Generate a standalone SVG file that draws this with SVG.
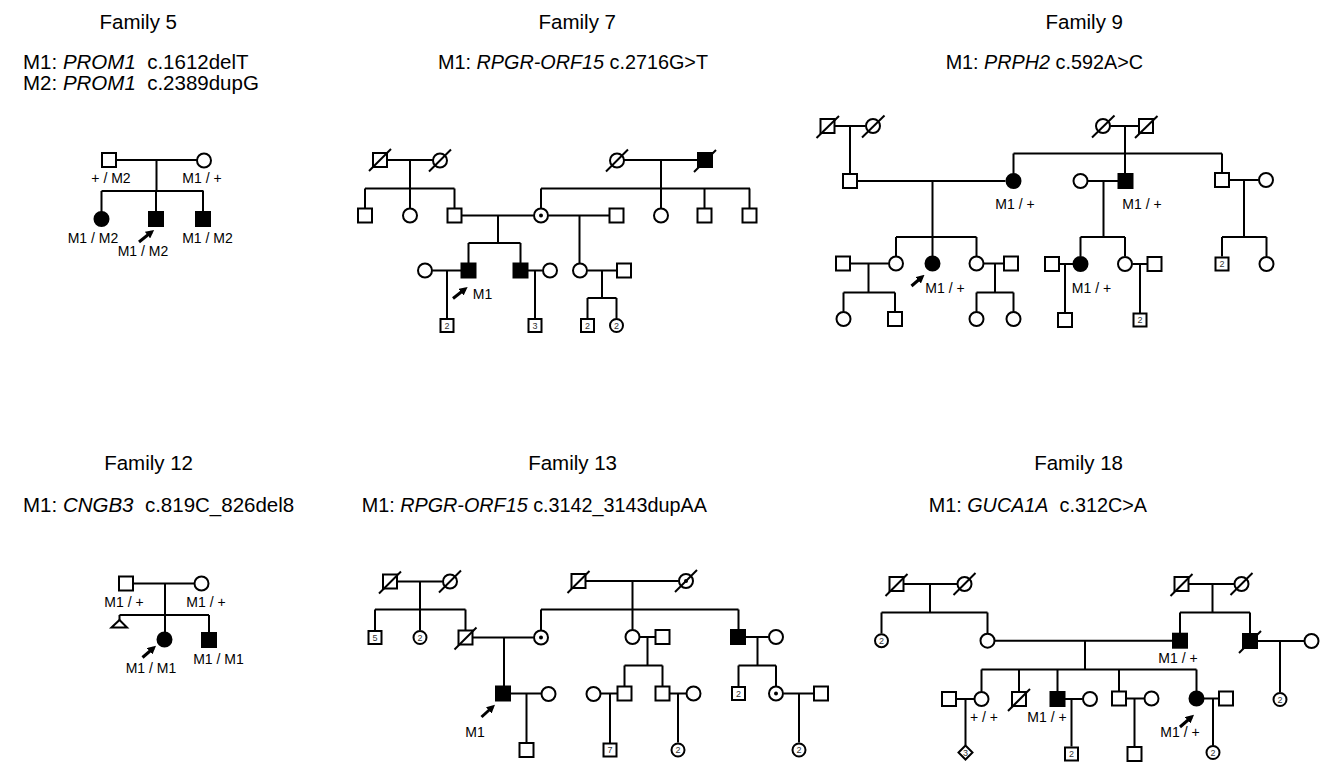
<svg xmlns="http://www.w3.org/2000/svg" width="1322" height="764" viewBox="0 0 1322 764">
<style>
text{font-family:"Liberation Sans",Arial,sans-serif;fill:#000}
.t{font-size:20.5px;text-anchor:end}
.m{font-size:19.8px;text-anchor:end}
.ms{font-size:20.5px}
.l{font-size:14px;text-anchor:middle}
.n{font-size:9px;text-anchor:middle;fill:#333}
.ln{stroke:#000;stroke-width:2;fill:none}
.o{fill:#fff;stroke:#000;stroke-width:2}
.f{fill:#000;stroke:#000;stroke-width:2}
.d{stroke:#000;stroke-width:2}
.ar{stroke:#000;stroke-width:3;fill:none;marker-end:url(#ah)}
</style>
<defs>
<marker id="ah" viewBox="0 0 10 10" refX="6" refY="5" markerWidth="2.8" markerHeight="2.8" orient="auto"><path d="M0 0 L10 5 L0 10 z" fill="#000"/></marker>
</defs>
<rect width="1322" height="764" fill="#fff"/>

<g id="titles">
<text class="t" x="177" y="29.3">Family 5</text>
<text class="ms" x="23" y="69">M1: <tspan font-style="italic">PROM1</tspan> <tspan dx="5.7">c.1612delT</tspan></text>
<text class="ms" x="23" y="90">M2: <tspan font-style="italic">PROM1</tspan> <tspan dx="5.7">c.2389dupG</tspan></text>
<text class="t" x="616" y="29.3">Family 7</text>
<text class="m" x="708" y="69">M1: <tspan font-style="italic">RPGR-ORF15</tspan> c.2716G&gt;T</text>
<text class="t" x="1123" y="29.3">Family 9</text>
<text class="m" x="1143" y="69">M1: <tspan font-style="italic">PRPH2</tspan> c.592A&gt;C</text>
<text class="t" x="193" y="470">Family 12</text>
<text class="ms" x="23" y="512">M1: <tspan font-style="italic">CNGB3</tspan> <tspan dx="5.7">c.819C_826del8</tspan></text>
<text class="t" x="617" y="470">Family 13</text>
<text class="m" x="707" y="512">M1: <tspan font-style="italic">RPGR-ORF15</tspan> c.3142_3143dupAA</text>
<text class="t" x="1123" y="470">Family 18</text>
<text class="m" x="1147" y="512">M1: <tspan font-style="italic">GUCA1A</tspan> <tspan dx="5.5">c.312C&gt;A</tspan></text>
</g>

<g id="connectors" class="ln">
<path d="M117 160H197M156.5 160V191M101.5 191H203.5M101.5 191V212M156 191V212M203 191V212"/>
<path d="M387 160H433M410 160V188.5M365 188.5H454.5M365 188.5V208M410 188.5V208M454.5 188.5V208"/>
<path d="M462 215.5H533.5M498 215.5V243M468.5 243H520.5M468.5 243V263M520.5 243V263"/>
<path d="M432.5 270.5H461M447 270.5V318.5M528 270.5H542.5M535 270.5V318.5"/>
<path d="M624 160H697.5M661 160V188.5M541 188.5H750M541 188.5V208M661 188.5V208M704.5 188.5V208M749.5 188.5V208"/>
<path d="M548.5 215.5H609M579.5 215.5V263M587.5 270.5H616.5M602 270.5V298M587.5 298H616.5M587.5 298V318.5M616.5 298V318.5"/>
<path d="M834.5 126H865.5M850 126V173.5M857.5 181H1005.5"/>
<path d="M1110.5 126H1138.5M1125 126V173.5M1013.5 153.5H1222M1013.5 153.5V173.5M1222 153.5V172.5"/>
<path d="M1088 181H1118M1103.5 181V237M1080.5 237H1125M1080.5 237V256M1125 237V256"/>
<path d="M1229 180H1258.5M1244 180V237M1222 237H1266.5M1222 237V256.5M1266.5 237V256.5"/>
<path d="M932.5 181V256M896 237H976.5M896 237V256M976.5 237V256"/>
<path d="M850.5 263.5H888.5M868.5 263.5V292.5M843.5 292.5H895M843.5 292.5V311.5M895 292.5V311.5"/>
<path d="M984 263.5H1003.5M995 263.5V292.5M976.5 292.5H1013.5M976.5 292.5V311.5M1013.5 292.5V311.5"/>
<path d="M1059 264H1073M1065 264V312.5M1132.5 264H1147M1140 264V313"/>
<path d="M133 583.5H194M165 583.5V632M119.5 615H209M209 615V632.5M119.5 615V620"/>
<path d="M397.5 581.5H442.5M420 581.5V609.5M375 609.5H465.5M375 609.5V631M420 609.5V630M465.5 609.5V630"/>
<path d="M586 581H678.5M632.5 581V609.5M541 609.5H738.5M541 609.5V630M632.5 609.5V629.5M738.5 609.5V629.5"/>
<path d="M473 637.5H533.5M504 637.5V686M510.5 693.5H541M526.5 693.5V742.5"/>
<path d="M640 637H655M647.5 637V665.5M624.5 665.5H662.5M624.5 665.5V686M662.5 665.5V686"/>
<path d="M601 693.5H617M610 693.5V743M670 693.5H686M678 693.5V742.5"/>
<path d="M746 637H768.5M757.5 637V665.5M738.5 665.5H776M738.5 665.5V686.5M776 665.5V686M783.5 693.5H813.5M799 693.5V742.5"/>
<path d="M904 584H957M930 584V612.5M881.5 612.5H987.5M881.5 612.5V633.5M987.5 612.5V633"/>
<path d="M995 640.7H1172.5M1085 640.7V669.5M981.5 669.5H1196.5M981.5 669.5V691.5M1019 669.5V691.5M1057.5 669.5V691.5M1119 669.5V691M1196.5 669.5V691"/>
<path d="M1189 584H1234M1212.5 584V612.5M1180 612.5H1250M1180 612.5V633M1250 612.5V633.5"/>
<path d="M1257.5 641H1304M1280 641V692"/>
<path d="M956.5 699H974M965.5 699V745M1065 699H1082.5M1071.5 699V746.5"/>
<path d="M1126.5 698.5H1144M1134.5 698.5V746.5M1203.5 698.5H1218.5M1213 698.5V745.5"/>
</g>

<g id="f5-I1"><rect class="o" x="102" y="153" width="14" height="14"/><text class="l" x="111" y="183">+ / M2</text></g>
<g id="f5-I2"><circle class="o" cx="204" cy="160.5" r="7"/><text class="l" x="202" y="183">M1 / +</text></g>
<g id="f5-II1"><circle class="f" cx="101.5" cy="219" r="7"/><text class="l" x="93" y="243">M1 / M2</text></g>
<g id="f5-II2"><rect class="f" x="149" y="212" width="14" height="14"/><line class="ar" x1="139" y1="242" x2="151.5" y2="232"/><text class="l" x="143" y="256">M1 / M2</text></g>
<g id="f5-II3"><rect class="f" x="196" y="212" width="14" height="14"/><text class="l" x="207.5" y="243">M1 / M2</text></g>

<g id="f7-I1"><rect class="o" x="373" y="153" width="14" height="14"/><line class="d" x1="369" y1="171" x2="391" y2="149"/></g>
<g id="f7-I2"><circle class="o" cx="440" cy="160.5" r="7"/><line class="d" x1="429" y1="171.5" x2="451" y2="149.5"/></g>
<g id="f7-I3"><circle class="o" cx="617" cy="160.5" r="7"/><line class="d" x1="606" y1="171.5" x2="628" y2="149.5"/></g>
<g id="f7-I4"><rect class="f" x="698" y="153" width="14" height="14"/><line class="d" x1="694" y1="172" x2="716" y2="150"/></g>
<g id="f7-II1"><rect class="o" x="358" y="208.5" width="14" height="14"/></g>
<g id="f7-II2"><circle class="o" cx="410" cy="215.5" r="7"/></g>
<g id="f7-II3"><rect class="o" x="447.5" y="208.5" width="14" height="14"/></g>
<g id="f7-II4"><circle class="o" cx="541" cy="215.5" r="7"/><circle cx="541" cy="215.5" r="2" fill="#000"/></g>
<g id="f7-II5"><rect class="o" x="609.5" y="208.5" width="14" height="14"/></g>
<g id="f7-II6"><circle class="o" cx="661" cy="215.5" r="7"/></g>
<g id="f7-II7"><rect class="o" x="697.5" y="208.5" width="14" height="14"/></g>
<g id="f7-II8"><rect class="o" x="742.5" y="208.5" width="14" height="14"/></g>
<g id="f7-III1"><circle class="o" cx="425" cy="270.5" r="7"/></g>
<g id="f7-III2"><rect class="f" x="461.5" y="263.5" width="14" height="14"/><line class="ar" x1="453" y1="298.5" x2="465" y2="289"/><text class="l" x="482.5" y="299">M1</text></g>
<g id="f7-III3"><rect class="f" x="513.5" y="263.5" width="14" height="14"/></g>
<g id="f7-III4"><circle class="o" cx="550" cy="270.5" r="7"/></g>
<g id="f7-III5"><circle class="o" cx="580" cy="270.5" r="7"/></g>
<g id="f7-III6"><rect class="o" x="617" y="263.5" width="14" height="14"/></g>
<g id="f7-IV1"><rect class="o" x="440.5" y="319" width="13" height="13"/><text class="n" x="447" y="328.5">2</text></g>
<g id="f7-IV2"><rect class="o" x="528.5" y="319" width="13" height="13"/><text class="n" x="535" y="328.5">3</text></g>
<g id="f7-IV3"><rect class="o" x="581" y="319" width="13" height="13"/><text class="n" x="587.5" y="328.5">2</text></g>
<g id="f7-IV4"><circle class="o" cx="616.5" cy="325.5" r="6.5"/><text class="n" x="616.5" y="328.5">2</text></g>

<g id="f9-I1"><rect class="o" x="820.5" y="119" width="14" height="14"/><line class="d" x1="816.5" y1="138" x2="839" y2="116"/></g>
<g id="f9-I2"><circle class="o" cx="873" cy="126" r="7"/><line class="d" x1="862" y1="137.5" x2="884.5" y2="115.5"/></g>
<g id="f9-I3"><circle class="o" cx="1103" cy="126" r="7"/><line class="d" x1="1092" y1="137.5" x2="1114.5" y2="115.5"/></g>
<g id="f9-I4"><rect class="o" x="1139" y="119" width="14" height="14"/><line class="d" x1="1135" y1="138" x2="1157.5" y2="116"/></g>
<g id="f9-II1"><rect class="o" x="843" y="174" width="14" height="14"/></g>
<g id="f9-II2"><circle class="f" cx="1013.5" cy="181" r="7"/><text class="l" x="1015" y="209">M1 / +</text></g>
<g id="f9-II3"><circle class="o" cx="1080.5" cy="181" r="7"/></g>
<g id="f9-II4"><rect class="f" x="1118.5" y="174" width="14" height="14"/><text class="l" x="1142" y="209">M1 / +</text></g>
<g id="f9-II5"><rect class="o" x="1215" y="173" width="14" height="14"/></g>
<g id="f9-II6"><circle class="o" cx="1266" cy="180" r="7"/></g>
<g id="f9-III1"><rect class="o" x="836" y="256.5" width="14" height="14"/></g>
<g id="f9-III2"><circle class="o" cx="896" cy="263.5" r="7"/></g>
<g id="f9-III3"><circle class="f" cx="932.5" cy="263.5" r="7"/><line class="ar" x1="911.5" y1="286" x2="922" y2="277"/><text class="l" x="945" y="292.5">M1 / +</text></g>
<g id="f9-III4"><circle class="o" cx="976.5" cy="263.5" r="7"/></g>
<g id="f9-III5"><rect class="o" x="1004" y="256.5" width="14" height="14"/></g>
<g id="f9-III6"><rect class="o" x="1045" y="257" width="14" height="14"/></g>
<g id="f9-III7"><circle class="f" cx="1080.5" cy="264" r="7"/><text class="l" x="1091.5" y="293">M1 / +</text></g>
<g id="f9-III8"><circle class="o" cx="1125" cy="264" r="7"/></g>
<g id="f9-III9"><rect class="o" x="1147.5" y="257" width="14" height="14"/></g>
<g id="f9-III10"><rect class="o" x="1215.5" y="257.5" width="13" height="13"/><text class="n" x="1222" y="267">2</text></g>
<g id="f9-III11"><circle class="o" cx="1266.5" cy="264" r="7"/></g>
<g id="f9-IV1"><circle class="o" cx="843.5" cy="319" r="7"/></g>
<g id="f9-IV2"><rect class="o" x="888" y="312" width="14" height="14"/></g>
<g id="f9-IV3"><circle class="o" cx="976.5" cy="319" r="7"/></g>
<g id="f9-IV4"><circle class="o" cx="1013.5" cy="319" r="7"/></g>
<g id="f9-IV5"><rect class="o" x="1058" y="313" width="14" height="14"/></g>
<g id="f9-IV6"><rect class="o" x="1133.5" y="313.5" width="13" height="13"/><text class="n" x="1140" y="323">2</text></g>

<g id="f12-I1"><rect class="o" x="119" y="576.5" width="14" height="14"/><text class="l" x="124" y="607">M1 / +</text></g>
<g id="f12-I2"><circle class="o" cx="201.5" cy="583.5" r="7"/><text class="l" x="206" y="607">M1 / +</text></g>
<g id="f12-II1"><path class="o" d="M119.5 620 L127 627.5 L111.5 627.5 Z"/></g>
<g id="f12-II2"><circle class="f" cx="164.5" cy="639.5" r="7"/><line class="ar" x1="142.5" y1="657.5" x2="153.5" y2="648"/><text class="l" x="151" y="672.5">M1 / M1</text></g>
<g id="f12-II3"><rect class="f" x="202" y="633" width="14" height="14"/><text class="l" x="218.5" y="664">M1 / M1</text></g>

<g id="f13-I1"><rect class="o" x="383" y="574.5" width="14" height="14"/><line class="d" x1="379" y1="593.5" x2="401" y2="571.5"/></g>
<g id="f13-I2"><circle class="o" cx="450" cy="581.5" r="7"/><line class="d" x1="439" y1="592.5" x2="461" y2="570.5"/></g>
<g id="f13-I3"><rect class="o" x="571.5" y="574" width="14" height="14"/><line class="d" x1="567.5" y1="593" x2="589.5" y2="571"/></g>
<g id="f13-I4"><circle class="o" cx="686" cy="581" r="7"/><circle cx="686" cy="581" r="2" fill="#000"/><line class="d" x1="675" y1="592" x2="697" y2="570"/></g>
<g id="f13-II1"><rect class="o" x="368.5" y="631" width="13" height="13"/><text class="n" x="375" y="640.5">5</text></g>
<g id="f13-II2"><circle class="o" cx="420" cy="637.5" r="6.5"/><text class="n" x="420" y="640.5">2</text></g>
<g id="f13-II3"><rect class="o" x="458.5" y="630.5" width="14" height="14"/><line class="d" x1="454.5" y1="649.5" x2="476.5" y2="627.5"/></g>
<g id="f13-II4"><circle class="o" cx="541" cy="637.5" r="7"/><circle cx="541" cy="637.5" r="2" fill="#000"/></g>
<g id="f13-II5"><circle class="o" cx="632.5" cy="637" r="7"/></g>
<g id="f13-II6"><rect class="o" x="655.5" y="630" width="14" height="14"/></g>
<g id="f13-II7"><rect class="f" x="731" y="630" width="14" height="14"/></g>
<g id="f13-II8"><circle class="o" cx="776" cy="637" r="7"/></g>
<g id="f13-III1"><rect class="f" x="496" y="686.5" width="14" height="14"/><line class="ar" x1="481.5" y1="717" x2="492.5" y2="707"/><text class="l" x="475" y="736.5">M1</text></g>
<g id="f13-III2"><circle class="o" cx="548.5" cy="694" r="7"/></g>
<g id="f13-III3"><circle class="o" cx="593.5" cy="694" r="7"/></g>
<g id="f13-III4"><rect class="o" x="617.5" y="686.5" width="14" height="14"/></g>
<g id="f13-III5"><rect class="o" x="655.5" y="686.5" width="14" height="14"/></g>
<g id="f13-III6"><circle class="o" cx="693.5" cy="693.5" r="7"/></g>
<g id="f13-III7"><rect class="o" x="732" y="687" width="13" height="13"/><text class="n" x="738.5" y="696.5">2</text></g>
<g id="f13-III8"><circle class="o" cx="776" cy="693.5" r="7"/><circle cx="776" cy="693.5" r="2" fill="#000"/></g>
<g id="f13-III9"><rect class="o" x="814" y="686.5" width="14" height="14"/></g>
<g id="f13-IV1"><rect class="o" x="519.5" y="743" width="14" height="14"/></g>
<g id="f13-IV2"><rect class="o" x="603.5" y="743.5" width="13" height="13"/><text class="n" x="610" y="753">7</text></g>
<g id="f13-IV3"><circle class="o" cx="678" cy="750" r="6.5"/><text class="n" x="678" y="753">2</text></g>
<g id="f13-IV4"><circle class="o" cx="799" cy="750" r="6.5"/><text class="n" x="799" y="753">2</text></g>

<g id="f18-I1"><rect class="o" x="889.5" y="577" width="14" height="14"/><line class="d" x1="885.5" y1="596" x2="907.5" y2="574"/></g>
<g id="f18-I2"><circle class="o" cx="964.5" cy="584" r="7"/><line class="d" x1="953.5" y1="595" x2="975.5" y2="573"/></g>
<g id="f18-I3"><rect class="o" x="1174.5" y="577" width="14" height="14"/><line class="d" x1="1170.5" y1="596" x2="1192.5" y2="574"/></g>
<g id="f18-I4"><circle class="o" cx="1241.5" cy="584" r="7"/><line class="d" x1="1230.5" y1="595" x2="1252.5" y2="573"/></g>
<g id="f18-II1"><circle class="o" cx="881.5" cy="640.7" r="6.5"/><text class="n" x="881.5" y="643.7">2</text></g>
<g id="f18-II2"><circle class="o" cx="987.5" cy="640.7" r="7"/></g>
<g id="f18-II3"><rect class="f" x="1173" y="633.7" width="14" height="14"/><text class="l" x="1178" y="663">M1 / +</text></g>
<g id="f18-II4"><rect class="f" x="1243" y="634" width="14" height="14"/><line class="d" x1="1239" y1="653" x2="1261" y2="631"/></g>
<g id="f18-II5"><circle class="o" cx="1311.5" cy="641" r="7"/></g>
<g id="f18-III1"><rect class="o" x="942" y="692" width="14" height="14"/></g>
<g id="f18-III2"><circle class="o" cx="981.5" cy="699" r="7"/><text class="l" x="984" y="721.5">+ / +</text></g>
<g id="f18-III3"><rect class="o" x="1012" y="692" width="14" height="14"/><line class="d" x1="1008" y1="711" x2="1030" y2="689"/></g>
<g id="f18-III4"><rect class="f" x="1050.5" y="692" width="14" height="14"/><text class="l" x="1047" y="721.5">M1 / +</text></g>
<g id="f18-III5"><circle class="o" cx="1090" cy="699" r="7"/></g>
<g id="f18-III6"><rect class="o" x="1112" y="691.5" width="14" height="14"/></g>
<g id="f18-III7"><circle class="o" cx="1151.5" cy="698.5" r="7"/></g>
<g id="f18-III8"><circle class="f" cx="1196.5" cy="698.5" r="7"/><line class="ar" x1="1180" y1="727" x2="1191.5" y2="717"/><text class="l" x="1180" y="737">M1 / +</text></g>
<g id="f18-III9"><rect class="o" x="1219" y="691.5" width="14" height="14"/></g>
<g id="f18-III10"><circle class="o" cx="1280" cy="699.5" r="6.5"/><text class="n" x="1280" y="702.5">2</text></g>
<g id="f18-IV1"><path class="o" d="M965.5 745.5 L972.5 752.5 L965.5 759.5 L958.5 752.5 Z"/><text class="n" x="965.5" y="755.5">3</text></g>
<g id="f18-IV2"><rect class="o" x="1065" y="747.5" width="13" height="13"/><text class="n" x="1071.5" y="757">2</text></g>
<g id="f18-IV3"><rect class="o" x="1127.5" y="747" width="14" height="14"/></g>
<g id="f18-IV4"><circle class="o" cx="1213" cy="752.5" r="6.5"/><text class="n" x="1213" y="755.5">2</text></g>
</svg>
